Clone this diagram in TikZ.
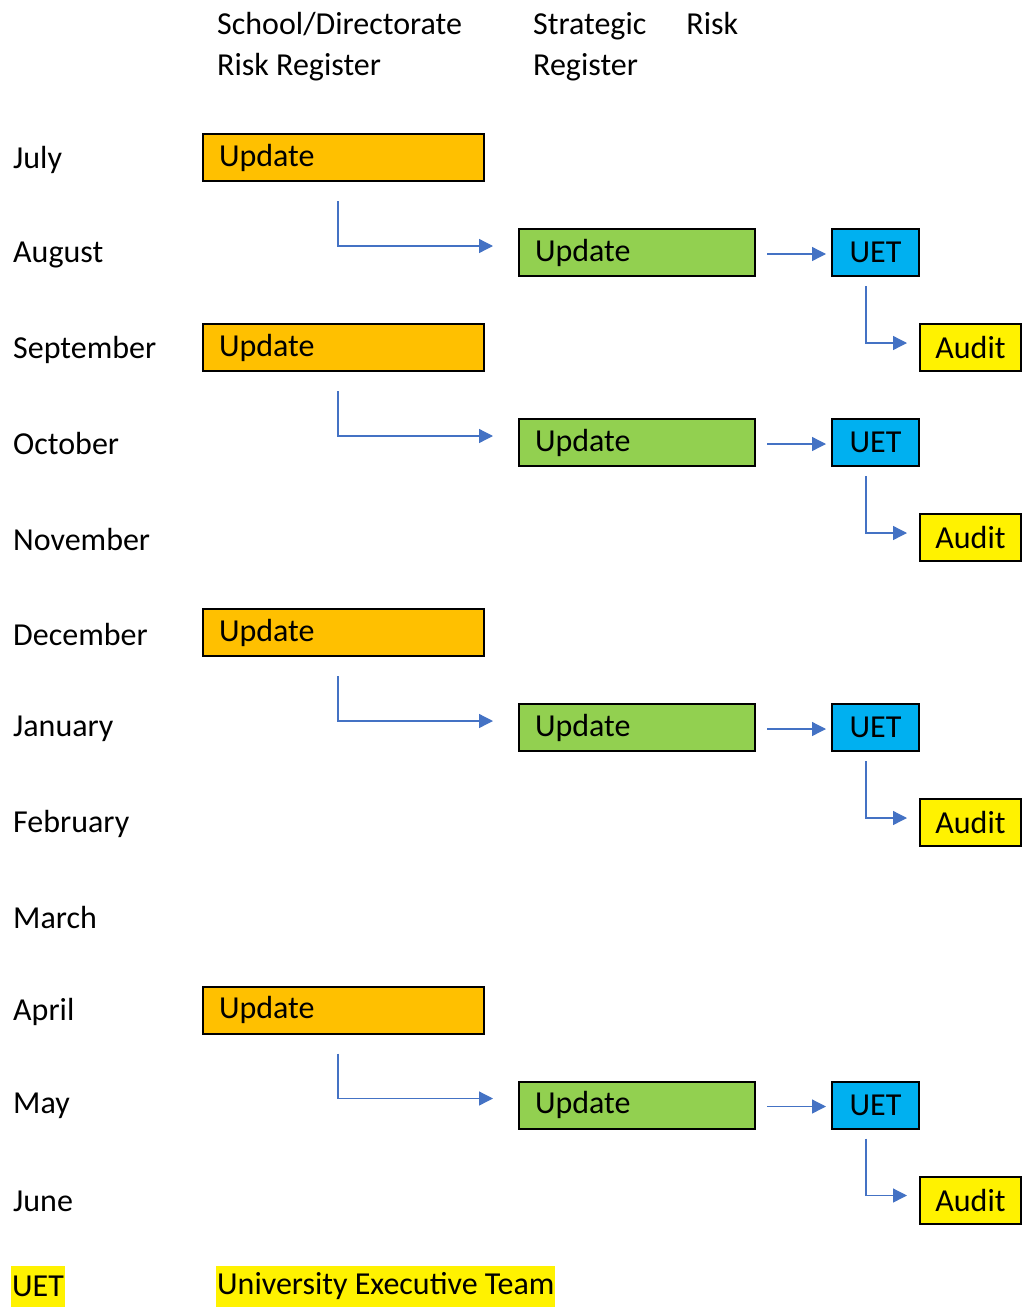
\documentclass[tikz,border=0pt]{standalone}
\usepackage{fontspec}
\setmainfont{Carlito}
\usetikzlibrary{arrows.meta,positioning}
\definecolor{amber}{RGB}{255,192,0}
\definecolor{leaf}{RGB}{146,208,80}
\definecolor{sky}{RGB}{0,176,240}
\definecolor{flowblue}{RGB}{68,114,196}

\begin{document}
\begin{tikzpicture}[x=1pt,y=-1pt,
  every node/.style={font=\fontsize{32}{41}\selectfont,inner sep=0pt},
  box/.style={draw=black,line width=2pt,minimum height=47pt},
  local/.style={box,fill=amber,text width=249pt,inner xsep=16pt,align=left},
  strat/.style={box,fill=leaf,text width=204pt,inner xsep=16pt,align=left},
  uetbox/.style={box,fill=sky,minimum width=87pt},
  audbox/.style={box,fill=yellow,minimum width=101pt},
  month/.style={anchor=west},
  flow/.style={draw=flowblue,line width=1.3pt,-{Triangle[length=14pt,width=14pt]}}]
\useasboundingbox (0,0) rectangle (1025,1309);
% column headings
\node (hlocal) [anchor=north west,align=left] at (217,12) {School/Directorate\\Risk Register};
\node (hstrat) [anchor=north west,align=left] at (533,12) {Strategic\hskip 40pt Risk\\Register};
% months
\foreach \m/\y in {July/160,August/255,September/350,October/444,November/539,
  December/634,January/729,February/824,March/917,April/1012,May/1106,June/1201}
  \node (\m) [month] at (13,\y) {\m};
% update cycles
\foreach \y [count=\i] in {157.5,347.5,632.5,1010} {
  \node (upd\i) [local,anchor=west] at (202,\y) {Update};
  \node (str\i) [strat,anchor=west] at (518,\y+95) {Update};
  \node (uet\i) [uetbox,anchor=west] at (831,\y+95) {UET};
  \node (aud\i) [audbox,anchor=west] at (919,\y+190) {Audit};
  \draw[flow,shorten >=25pt] ([xshift=-5.5pt,yshift=-19pt]upd\i.south) |- ([yshift=6.5pt]str\i.west);
  \draw[flow,shorten <=11pt,shorten >=5pt] ([yshift=-1.5pt]str\i.east) -- ([yshift=-1.5pt]uet\i.west);
  \draw[flow,shorten >=12pt] ([xshift=-9.5pt,yshift=-9pt]uet\i.south) |- ([yshift=4.5pt]aud\i.west);
}
% legend
\node (kuet) [anchor=west,fill=yellow,inner xsep=1pt,minimum height=41pt] at (11,1286) {UET};
\node (kname) [anchor=west,fill=yellow,inner xsep=1pt,minimum height=41pt] at (216,1286) {University Executive Team};
\end{tikzpicture}
\end{document}
